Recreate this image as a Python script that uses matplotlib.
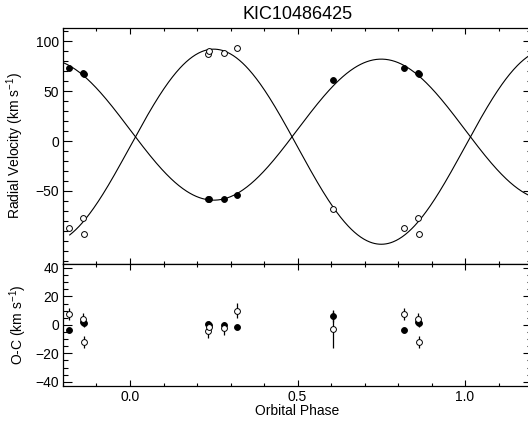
import numpy as np
import matplotlib
matplotlib.use("Agg")
import matplotlib.pyplot as plt
from matplotlib.ticker import MultipleLocator, FixedLocator

plt.rcParams['font.family'] = ['Liberation Sans', 'DejaVu Sans']
plt.rcParams['mathtext.fontset'] = 'custom'
plt.rcParams['mathtext.rm'] = 'Liberation Sans'
plt.rcParams['mathtext.default'] = 'regular'

# ---- data ----
title = "KIC10486425"
phase = [0.234, 0.236, 0.281, 0.318, 0.607, 0.818, 0.861, 0.862]
rv_primary = [-58.0, -58.0, -58.0, -54.0, 61.0, 72.7, 68.0, 67.0]      # filled
rv_secondary = [87.0, 90.3, 88.3, 93.3, -68.5, -87.7, -76.7, -93.3]  # open
oc_primary = [0.5, 0.0, -0.3, -1.3, 6.0, -3.7, 2.2, 1.2]
oc_primary_err = [1.5, 1.5, 1.5, 1.5, 4.0, 1.0, 2.5, 2.5]
oc_secondary = [-4.5, -1.5, -2.5, 10.0, -3.0, 7.5, 4.0, -12.0]
oc_secondary_err = [4.5, 4.0, 4.5, 5.5, 13.4, 4.0, 4.0, 4.0]

# orbit fit parameters (circular orbit)
gamma1, K1 = 11.4, 70.7
gamma2, K2 = -5.7, 97.8

xlim = (-0.2, 1.2)
rv_ylim = (-123, 113)
oc_ylim = (-43, 43)

def extend(ph, vals):
    p = np.asarray(ph); v = np.asarray(vals)
    pp = np.concatenate([p, p - 1, p + 1])
    vv = np.concatenate([v, v, v])
    m = (pp >= xlim[0]) & (pp <= xlim[1])
    return pp[m], vv[m]

W, H = 528, 424
fig = plt.figure(figsize=(W / 100, H / 100), dpi=100)
left = 63 / W
width = (532 - 63) / W
ax1 = fig.add_axes([left, (H - 263.7) / H, width, (263.7 - 28.3) / H])
ax2 = fig.add_axes([left, (H - 386) / H, width, (386 - 263.7) / H])

# model curves
ph1 = np.linspace(xlim[0], xlim[1], 600)
ph2 = np.linspace(-0.18, xlim[1], 600)
ax1.plot(ph1, gamma1 - K1 * np.sin(2 * np.pi * ph1), color='black', lw=0.8)
ax1.plot(ph2, gamma2 + K2 * np.sin(2 * np.pi * ph2), color='black', lw=0.8)

ms = 4.2
p, v = extend(phase, rv_primary)
ax1.plot(p, v, 'o', color='black', ms=ms, mew=0.7)
p, v = extend(phase, rv_secondary)
ax1.plot(p, v, 'o', mfc='white', mec='black', ms=ms, mew=0.7)

p, v = extend(phase, oc_primary)
_, e = extend(phase, oc_primary_err)
ax2.errorbar(p, v, yerr=e, fmt='o', color='black', ms=ms, mew=0.7,
             elinewidth=0.9, capsize=0)
p, v = extend(phase, oc_secondary)
_, e = extend(phase, oc_secondary_err)
ax2.errorbar(p, v, yerr=e, fmt='o', mfc='white', mec='black', ecolor='black',
             ms=ms, mew=0.7, elinewidth=0.9, capsize=0)

for ax in (ax1, ax2):
    ax.set_xlim(*xlim)
    ax.xaxis.set_major_locator(MultipleLocator(0.5))
    ax.xaxis.set_minor_locator(MultipleLocator(0.1))
    ax.tick_params(which='both', direction='in', top=True, right=True,
                   labelsize=10, pad=3)
    ax.tick_params(axis='x', which='major', length=4, width=0.8)
    ax.tick_params(axis='x', which='minor', length=2.5, width=0.8)
    ax.tick_params(axis='y', which='major', length=6.5, width=0.8)
    ax.tick_params(axis='y', which='minor', length=3.5, width=0.8)
    for s in ax.spines.values():
        s.set_linewidth(0.9)

ax1.set_ylim(*rv_ylim)
ax1.yaxis.set_major_locator(FixedLocator([-50, 0, 50, 100]))
ax1.yaxis.set_minor_locator(MultipleLocator(10))
ax1.tick_params(axis='x', labelbottom=False)
ax1.set_ylabel(r'Radial Velocity (km s$^{-1}$)', fontsize=10)
ax1.yaxis.set_label_coords(-0.079, 0.5)
ax1.set_title(title, fontsize=13, pad=6.5)

ax2.set_ylim(*oc_ylim)
ax2.yaxis.set_major_locator(MultipleLocator(20))
ax2.yaxis.set_minor_locator(MultipleLocator(5))
ax2.set_xticks([0.0, 0.5, 1.0])
ax2.set_xticklabels(['0.0', '0.5', '1.0'])
ax2.set_xlabel('Orbital Phase', fontsize=10, labelpad=0)
ax2.set_ylabel(r'O-C (km s$^{-1}$)', fontsize=10)
ax2.yaxis.set_label_coords(-0.072, 0.5)

fig.savefig('out.png', dpi=100)
